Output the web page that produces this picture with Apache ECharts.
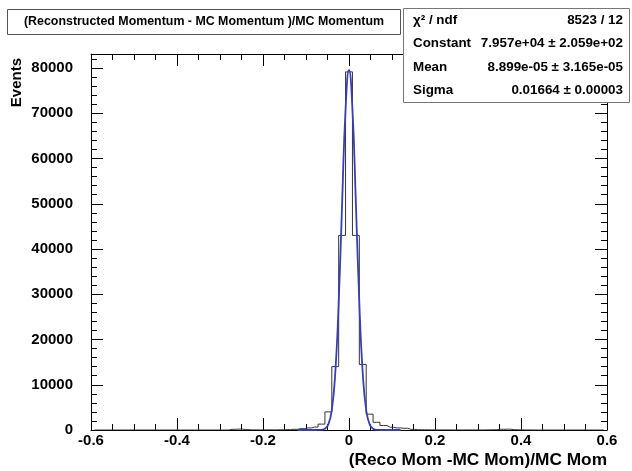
<!DOCTYPE html>
<html>
<head>
<meta charset="utf-8">
<script src="https://cdn.jsdelivr.net/npm/echarts@6/dist/echarts.min.js"></script>
<style>
html, body { margin: 0; padding: 0; background: #fff; }
#main { width: 632px; height: 471px; }
</style>
</head>
<body>
<div id="main"></div>
<script>
// histogram: 75 bins from -0.6, width 0.016
var binLow = -0.6;
var binWidth = 0.016;
var counts = [
    0, 0, 0, 0, 0, 0, 0, 0, 0, 0,
    0, 0, 0, 0, 0, 0, 0, 0, 0, 0,
    150, 200, 80, 30, 20, 40, 30, 50, 80,
    150, 300, 450, 650, 1300, 4000, 14000, 43000,
    79150,
    43000, 14500, 3500, 1700, 1000, 600, 450, 380, 150,
    60, 40, 30, 20, 20, 10, 10, 20, 10, 10, 30,
    60, 150, 180, 60,
    20, 10, 0, 0, 0, 0, 0, 0, 0, 0, 0, 0, 0
];

// gaus fit curve
var fitX = [-0.12, -0.112, -0.104, -0.096, -0.088, -0.08, -0.072, -0.064, -0.056, -0.048, -0.04,
    -0.032, -0.024, -0.016, -0.008, 0, 0.008, 0.016, 0.024, 0.032, 0.04, 0.048, 0.056,
    0.064, 0.072, 0.08, 0.088, 0.096, 0.104, 0.112, 0.12];
var fitY = [0, 0, 0, 0, 0, 1, 7, 49, 276, 1240, 4420,
    12530, 28120, 50100, 70890, 79570, 70890, 50100, 28120, 12530, 4420, 1240, 276,
    49, 7, 1, 0, 0, 0, 0, 0];

var titleText = '(Reconstructed Momentum - MC Momentum )/MC Momentum';
var xTitle = '(Reco Mom -MC Mom)/MC Mom';
var yTitle = 'Events';
var statNames = ['\u03c7\u00b2 / ndf', 'Constant', 'Mean', 'Sigma'];
var statValues = ['8523 / 12', '7.957e+04 \u00b1 2.059e+02', '8.899e-05 \u00b1 3.165e-05', '0.01664 \u00b1 0.00003'];

var FONT = 'Liberation Sans, Arial, Helvetica, sans-serif';
var myChart = echarts.init(document.getElementById('main'));

function xAxisDef(pos, showLabel) {
    return {
        type: 'value',
        position: pos,
        min: -0.6,
        max: 0.6,
        interval: 0.2,
        axisLine: { show: true, onZero: false, lineStyle: { color: '#000', width: 1 } },
        axisTick: { show: true, inside: true, length: 12, lineStyle: { color: '#000' } },
        minorTick: { show: true, splitNumber: 4, length: 6, lineStyle: { color: '#000' } },
        splitLine: { show: false },
        axisLabel: {
            show: showLabel,
            margin: 3,
            color: '#000',
            fontFamily: FONT,
            fontWeight: 'bold',
            fontSize: 15,
            formatter: function (v) {
                return v === 0 ? '0' : String(+v.toFixed(1));
            }
        }
    };
}

function yAxisDef(pos, step, len, showLine, showLabel) {
    return {
        type: 'value',
        position: pos,
        min: 0,
        max: 83100,
        interval: step,
        axisLine: { show: showLine, onZero: false, lineStyle: { color: '#000', width: 1 } },
        axisTick: { show: true, inside: true, length: len, lineStyle: { color: '#000' } },
        splitLine: { show: false },
        axisLabel: {
            show: showLabel,
            margin: 18,
            showMaxLabel: false,
            color: '#000',
            fontFamily: FONT,
            fontWeight: 'bold',
            fontSize: 15,
            formatter: function (v) {
                return v % 10000 === 0 ? String(v) : '';
            }
        }
    };
}

var histData = [];
for (var i = 0; i < counts.length; i++) {
    histData.push([binLow + (i + 0.5) * binWidth, counts[i]]);
}
var fitData = [];
for (var j = 0; j < fitX.length; j++) {
    fitData.push([fitX[j], fitY[j]]);
}

// title pave, stats box and axis titles
var graphics = [
    { type: 'rect', z: 100, shape: { x: 7.5, y: 9.5, width: 393, height: 25 },
      style: { fill: '#fff', stroke: '#555', lineWidth: 1 } },
    { type: 'text', z: 101, x: 204, y: 22,
      style: { text: titleText, align: 'center', verticalAlign: 'middle',
               font: 'bold 12.4px ' + FONT, fill: '#000' } },
    { type: 'rect', z: 100, shape: { x: 403.5, y: 8.5, width: 226, height: 94 },
      style: { fill: '#fff', stroke: '#777', lineWidth: 1 } },
    { type: 'text', z: 101, x: 17, y: 58, rotation: Math.PI / 2,
      style: { text: yTitle, align: 'right', verticalAlign: 'middle',
               font: 'bold 15px ' + FONT, fill: '#000' } },
    { type: 'text', z: 101, x: 607, y: 460,
      style: { text: xTitle, align: 'right', verticalAlign: 'middle',
               font: 'bold 17.3px ' + FONT, fill: '#000' } }
];
for (var k = 0; k < statNames.length; k++) {
    var ry = 20 + k * 23.5;
    graphics.push({ type: 'text', z: 101, x: 413, y: ry,
        style: { text: statNames[k], align: 'left', verticalAlign: 'middle',
                 font: 'bold 13.4px ' + FONT, fill: '#000' } });
    graphics.push({ type: 'text', z: 101, x: 623, y: ry,
        style: { text: statValues[k], align: 'right', verticalAlign: 'middle',
                 font: 'bold 13.4px ' + FONT, fill: '#000' } });
}

var option = {
    animation: false,
    backgroundColor: '#fff',
    grid: { left: 91, right: 25, top: 54, bottom: 41 },
    xAxis: [xAxisDef('bottom', true), xAxisDef('top', false)],
    yAxis: [
        yAxisDef('left', 10000, 12, true, true),
        yAxisDef('left', 2000, 6, false, false),
        yAxisDef('right', 10000, 12, true, false),
        yAxisDef('right', 2000, 6, false, false)
    ],
    series: [
        {
            name: 'hist',
            type: 'line',
            step: 'middle',
            xAxisIndex: 0,
            yAxisIndex: 0,
            showSymbol: false,
            lineStyle: { color: '#333', width: 1 },
            data: histData,
            z: 2
        },
        {
            name: 'gaus',
            type: 'line',
            smooth: true,
            xAxisIndex: 0,
            yAxisIndex: 0,
            showSymbol: false,
            lineStyle: { color: '#3a3fb0', width: 1.8 },
            data: fitData,
            z: 3
        }
    ],
    graphic: graphics
};
myChart.setOption(option);
</script>
</body>
</html>
